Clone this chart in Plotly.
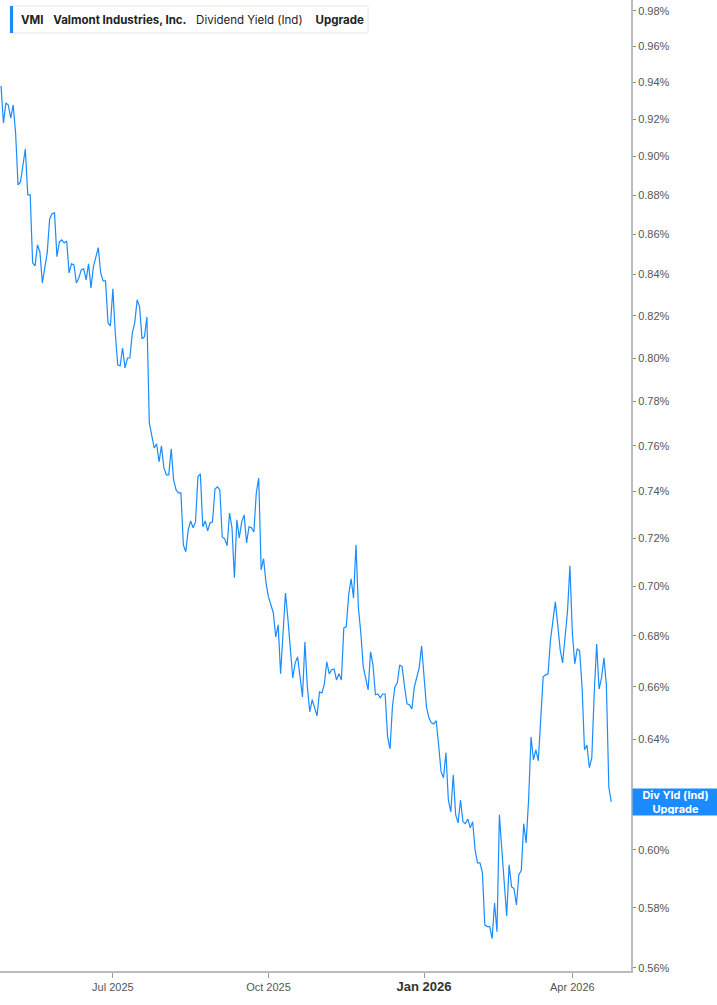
import math
import pandas as pd
import plotly.graph_objects as go

# ---------------- data ----------------
TICKER = "VMI"
COMPANY = "Valmont Industries, Inc."
METRIC = "Dividend Yield (Ind)"
START_DATE = "2025-04-24"
HOLIDAYS = ["2025-05-26", "2025-06-19", "2025-07-04", "2025-09-01", "2025-11-27",
            "2025-12-25", "2026-01-01", "2026-01-19", "2026-02-16", "2026-04-03"]

# dividend yield (%) per trading day
yield_q2_2025 = [
    0.9380, 0.9179, 0.9287, 0.9276, 0.9205, 0.9276, 0.9126, 0.8852, 0.8868, 0.8951,
    0.9040, 0.8801, 0.8801, 0.8458, 0.8443, 0.8547, 0.8512, 0.8359, 0.8433, 0.8507,
    0.8678, 0.8704, 0.8709, 0.8488, 0.8562, 0.8572, 0.8557, 0.8567, 0.8408, 0.8453,
    0.8448, 0.8359, 0.8383, 0.8423, 0.8428, 0.8374, 0.8453, 0.8335, 0.8438, 0.8488,
    0.8534, 0.8408, 0.8369, 0.8369, 0.8166, 0.8152, 0.8330, 0.8118,
]
yield_q3_2025 = [
    0.7968, 0.7963, 0.8047, 0.7954, 0.8000, 0.8000, 0.8118, 0.8166, 0.8277, 0.8243,
    0.8090, 0.8100, 0.8194, 0.7702, 0.7639, 0.7590, 0.7608, 0.7529, 0.7599, 0.7502,
    0.7472, 0.7472, 0.7586, 0.7450, 0.7406, 0.7393, 0.7393, 0.7172, 0.7143, 0.7235,
    0.7273, 0.7244, 0.7269, 0.7463, 0.7476, 0.7248, 0.7273, 0.7231, 0.7265, 0.7269,
    0.7410, 0.7419, 0.7406, 0.7205, 0.7197, 0.7168, 0.7307, 0.7244, 0.7035, 0.7278,
    0.7201, 0.7269, 0.7299, 0.7180, 0.7248, 0.7244, 0.7226, 0.7393, 0.7458, 0.7068,
    0.7114, 0.7014, 0.6957, 0.6925,
]
yield_q4_2025 = [
    0.6893, 0.6796, 0.6844, 0.6651, 0.6796, 0.6973, 0.6868, 0.6745, 0.6635, 0.6694,
    0.6717, 0.6639, 0.6562, 0.6776, 0.6600, 0.6505, 0.6551, 0.6520, 0.6490, 0.6581,
    0.6577, 0.6612, 0.6698, 0.6651, 0.6667, 0.6670, 0.6627, 0.6651, 0.6627, 0.6832,
    0.6836, 0.6965, 0.7031, 0.6953, 0.7172, 0.6913, 0.6812, 0.6678, 0.6631, 0.6589,
    0.6737, 0.6686, 0.6570, 0.6573, 0.6558, 0.6573, 0.6573, 0.6410, 0.6365, 0.6524,
    0.6600, 0.6616, 0.6686, 0.6678, 0.6600, 0.6535, 0.6532, 0.6516, 0.6600, 0.6639,
    0.6674, 0.6760, 0.6627, 0.6524,
]
yield_2026 = [
    0.6482, 0.6463, 0.6459, 0.6471, 0.6380, 0.6281, 0.6259, 0.6351, 0.6178, 0.6135,
    0.6270, 0.6125, 0.6096, 0.6178, 0.6100, 0.6093, 0.6110, 0.6078, 0.6100, 0.6000,
    0.5955, 0.5955, 0.5921, 0.5743, 0.5737, 0.5737, 0.5697, 0.5817, 0.5720, 0.6125,
    0.6000, 0.5872, 0.5773, 0.5948, 0.5872, 0.5866, 0.5810, 0.5914, 0.5928, 0.6093,
    0.6025, 0.6178, 0.6410, 0.6325, 0.6362, 0.6321, 0.6475, 0.6639, 0.6647, 0.6651,
    0.6784, 0.6864, 0.6937, 0.6844, 0.6745, 0.6694, 0.6784, 0.6897, 0.7085, 0.6812,
    0.6690, 0.6749, 0.6741, 0.6600, 0.6362, 0.6380, 0.6296, 0.6332, 0.6577, 0.6768,
    0.6592, 0.6635, 0.6714, 0.6608, 0.6225, 0.6171,
]
values = yield_q2_2025 + yield_q3_2025 + yield_q4_2025 + yield_2026

x_tick_vals = ["2025-07-01", "2025-10-01", "2026-01-02", "2026-04-01"]
x_tick_text = ["Jul 2025", "Oct 2025",
               "<span style='font-size:13px;color:#333333'><b>Jan 2026</b></span>",
               "Apr 2026"]
y_tick_vals = [0.56, 0.58, 0.60, 0.62, 0.64, 0.66, 0.68, 0.70, 0.72, 0.74, 0.76,
               0.78, 0.80, 0.82, 0.84, 0.86, 0.88, 0.90, 0.92, 0.94, 0.96, 0.98]
# the 0.62% label sits behind the last-value badge in the reference
y_tick_text = ["" if abs(v - 0.62) < 1e-9 else f"{v:.2f}%" for v in y_tick_vals]

dates = pd.bdate_range(START_DATE, periods=len(values), freq="C", holidays=HOLIDAYS)

LINE = "#1a8cff"

fig = go.Figure()
fig.add_trace(go.Scatter(x=dates, y=values, mode="lines",
                         line=dict(color=LINE, width=1.2), hoverinfo="skip",
                         showlegend=False))

fig.update_layout(
    width=717, height=1005,
    margin=dict(l=0, r=86, t=0, b=34),
    paper_bgcolor="white", plot_bgcolor="white",
    font=dict(family="Liberation Sans, Arial, sans-serif", size=11, color="#555555"),
    xaxis=dict(
        type="date",
        range=["2025-04-23 14:00", "2026-05-06 03:00"],
        rangebreaks=[dict(bounds=["sat", "mon"]), dict(values=HOLIDAYS)],
        tickmode="array", tickvals=x_tick_vals, ticktext=x_tick_text,
        ticks="outside", ticklen=5, tickcolor="#999999", tickwidth=1,
        showline=True, linecolor="#bbbbbb", linewidth=2,
        showgrid=False, zeroline=False,
        tickfont=dict(size=11, color="#555555"),
    ),
    yaxis=dict(
        type="log", side="right",
        range=[math.log10(0.559), math.log10(0.98632)],
        tickmode="array", tickvals=y_tick_vals, ticktext=y_tick_text,
        ticks="outside", ticklen=3, tickcolor="#888888",
        showline=True, linecolor="#bbbbbb", linewidth=2,
        showgrid=False, zeroline=False,
        tickfont=dict(size=11, color="#555555"),
    ),
)

# header box
PW, PH = 631.0, 971.0
fig.add_shape(type="rect", xref="paper", yref="paper",
              x0=10 / PW, x1=368 / PW, y0=1 - 33 / PH, y1=1 - 6 / PH,
              line=dict(color="#e6e6e6", width=1), fillcolor="white", layer="above")
fig.add_shape(type="rect", xref="paper", yref="paper",
              x0=10 / PW, x1=13 / PW, y0=1 - 33 / PH, y1=1 - 6 / PH,
              line=dict(width=0), fillcolor=LINE, layer="above")
sp = "\u00a0"
fig.add_annotation(
    xref="paper", yref="paper", x=19 / PW, y=1 - 19.5 / PH,
    xanchor="left", yanchor="middle", showarrow=False,
    text=f"<b>{TICKER}</b>{sp*3}<b>{COMPANY}</b>{sp*3}{METRIC}{sp*4}<b>Upgrade</b>",
    font=dict(family="Inter, Liberation Sans, sans-serif", size=11.5, color="#222222"),
)

# last value label
fig.add_annotation(
    xref="paper", yref="y", x=1, y=math.log10(values[-1]),
    xanchor="left", yanchor="middle", xshift=1, showarrow=False,
    text="<b>Div Yld (Ind)<br>Upgrade</b>", align="center",
    bgcolor=LINE, borderpad=1, width=83, height=24,
    font=dict(family="Inter, Liberation Sans, sans-serif", size=11, color="white"),
)

fig.write_html("out.html",
               config={"displayModeBar": False},
               post_script="document.body.style.margin='0';document.body.style.overflow='hidden';")
